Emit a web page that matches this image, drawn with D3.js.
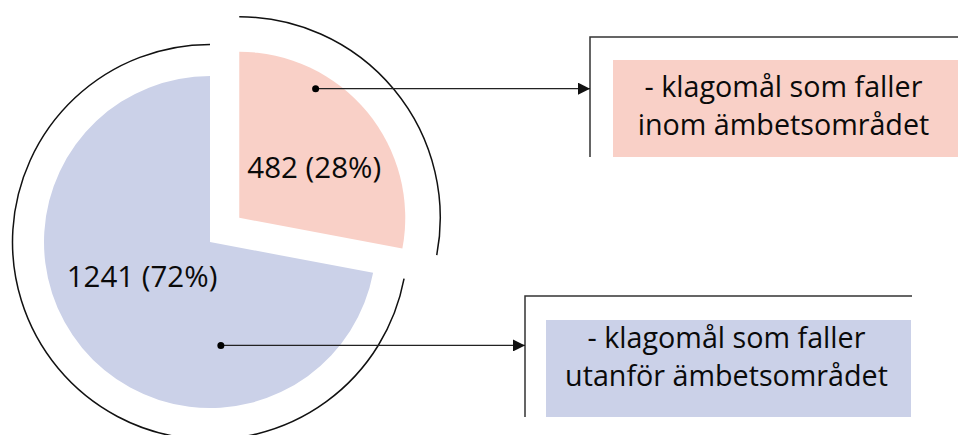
<!DOCTYPE html>
<meta charset="utf-8">
<script src="https://d3js.org/d3.v7.min.js"></script>
<style>
body { margin: 0; background: #fff; }
text { font-family: "Open Sans", sans-serif; fill: #0a0a0a; }
</style>
<div id="chart"></div>
<script>

// data
var categories = ["inom ämbetsområdet", "utanför ämbetsområdet"];
var values = [482, 1241];
var percents = [28, 72];
var legendLines = [
  ["- klagomål som faller", "inom ämbetsområdet"],
  ["- klagomål som faller", "utanför ämbetsområdet"]
];
var colors = ["#f9d0c7", "#cbd1e8"];

var width = 958, height = 435;
var cx = 210, cy = 242;
var radius = 166;
var explode = 38;

var svg = d3.select("#chart").append("svg")
    .attr("width", width)
    .attr("height", height);

var pie = d3.pie().sort(null).value(function(d) { return d; });
var arcs = pie(values);

var arc = d3.arc().innerRadius(0).outerRadius(radius);

// first slice is pulled out of the pie
function offset(d, i) {
  if (i > 0) return [0, 0];
  var a = (d.startAngle + d.endAngle) / 2;
  return [explode * Math.sin(a), -explode * Math.cos(a)];
}

var ringR = [201, 197.5];
var labelPos = [[75, -40], [-68, 45]];      // label baseline relative to slice centre
var anchor = [[30.6, 150], [174, 104]];     // callout dot: angle (deg), distance

// legend boxes
var boxes = [
  {frameX: 590, frameY: 37, frameR: 958, frameB: 157, x: 613, y: 60, w: 345, h: 97, base: 97},
  {frameX: 525, frameY: 296, frameR: 912, frameB: 417, x: 546, y: 320, w: 365, h: 97, base: 348}
];

svg.append("defs").append("marker")
    .attr("id", "arrow")
    .attr("viewBox", "0 0 10 10")
    .attr("refX", 10).attr("refY", 5)
    .attr("markerWidth", 15).attr("markerHeight", 12)
    .attr("markerUnits", "userSpaceOnUse")
    .attr("orient", "auto")
  .append("path")
    .attr("d", "M0,0L10,5L0,10Z")
    .attr("fill", "#111");

var g = svg.selectAll("g.slice")
  .data(arcs)
  .enter().append("g")
    .attr("class", "slice")
    .attr("transform", function(d, i) {
      var o = offset(d, i);
      return "translate(" + (cx + o[0]) + "," + (cy + o[1]) + ")";
    });

g.append("path")
    .attr("d", arc)
    .attr("fill", function(d, i) { return colors[i]; });

// outer ring around each slice
g.append("path")
    .attr("d", function(d, i) {
      return d3.arc().innerRadius(ringR[i]).outerRadius(ringR[i])(d);
    })
    .attr("fill", "none")
    .attr("stroke", "#111")
    .attr("stroke-width", 1.5);

g.append("text")
    .attr("x", function(d, i) { return labelPos[i][0]; })
    .attr("y", function(d, i) { return labelPos[i][1]; })
    .attr("text-anchor", "middle")
    .style("font-size", "29.5px")
    .text(function(d, i) { return values[i] + " (" + percents[i] + "%)"; });

// legend frames and boxes
boxes.forEach(function(b, i) {
  svg.append("path")
      .attr("d", "M" + b.frameR + "," + b.frameY + "H" + b.frameX + "V" + b.frameB)
      .attr("fill", "none")
      .attr("stroke", "#333")
      .attr("stroke-width", 1.5);

  svg.append("rect")
      .attr("x", b.x).attr("y", b.y)
      .attr("width", b.w).attr("height", b.h)
      .attr("fill", colors[i]);

  svg.append("text")
      .attr("x", b.x + b.w / 2 - 2)
      .attr("y", b.base)
      .attr("text-anchor", "middle")
      .style("font-size", "28.7px")
    .selectAll("tspan")
    .data(legendLines[i])
    .enter().append("tspan")
      .attr("x", b.x + b.w / 2 - 2)
      .attr("dy", function(d, j) { return j ? 38 : 0; })
      .text(function(d) { return d; });
});

// callout lines
arcs.forEach(function(d, i) {
  var o = offset(d, i);
  var a = anchor[i][0] * Math.PI / 180;
  var px = cx + o[0] + anchor[i][1] * Math.sin(a);
  var py = cy + o[1] - anchor[i][1] * Math.cos(a);

  svg.append("line")
      .attr("x1", px).attr("y1", py)
      .attr("x2", boxes[i].frameX).attr("y2", py)
      .attr("stroke", "#222")
      .attr("stroke-width", 1.2)
      .attr("marker-end", "url(#arrow)");

  svg.append("circle")
      .attr("cx", px).attr("cy", py)
      .attr("r", 3.5)
      .attr("fill", "#000");
});

</script>
